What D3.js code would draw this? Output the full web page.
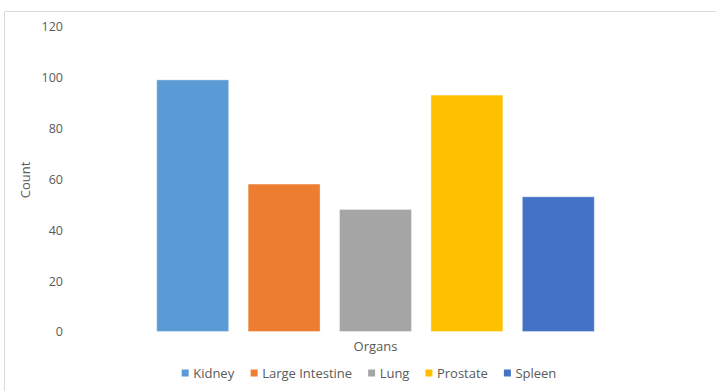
<!DOCTYPE html>
<html>
<head>
<meta charset="utf-8">
<script src="https://cdn.jsdelivr.net/npm/d3@7"></script>
<style>
  html, body { margin: 0; padding: 0; background: #fff; }
  svg { display: block; }
  text { font-family: "Open Sans", "Liberation Sans", sans-serif; fill: #595959; }
</style>
</head>
<body>
<svg id="chart" width="716" height="391"></svg>
<script>
// Counts per organ
const organs = ["Kidney", "Large Intestine", "Lung", "Prostate", "Spleen"];
const counts = [99, 58, 48, 93, 53];
const colors = ["#5B9BD5", "#ED7D31", "#A5A5A5", "#FFC000", "#4472C4"];
const yTicks = [0, 20, 40, 60, 80, 100, 120];
const categoryLabel = "Organs";
const yTitle = "Count";

const svg = d3.select("#chart");

// chart frame (top and left edges)
svg.append("path")
  .attr("d", "M4.5,391 V11.5 H716")
  .attr("fill", "none")
  .attr("stroke", "#d9d9d9")
  .attr("stroke-width", 1);

const y = d3.scaleLinear().domain([0, 120]).range([331.5, 26.5]);
const x = d3.scaleBand().domain(organs).range([147, 604])
  .paddingInner(0.213).paddingOuter(0.1065);

// y axis labels (no line, no ticks)
const yAxis = d3.axisLeft(y).tickValues(yTicks).tickSize(0).tickPadding(0);
const gy = svg.append("g").attr("transform", "translate(63,0)").call(yAxis);
gy.select(".domain").remove();
gy.selectAll("text")
  .style("font-size", "12.5px")
  .attr("fill", "#595959")
  .attr("dy", "0.35em")
  .attr("font-family", '"Open Sans", sans-serif');

// bars
svg.append("g").selectAll("rect")
  .data(organs)
  .join("rect")
  .attr("x", d => x(d))
  .attr("width", x.bandwidth())
  .attr("y", (d, i) => y(counts[i]))
  .attr("height", (d, i) => y(0) - y(counts[i]))
  .attr("fill", (d, i) => colors[i])
  .attr("stroke", "#ffffff")
  .attr("stroke-opacity", 0.35)
  .attr("stroke-width", 1);

// category label under the bar cluster
svg.append("text")
  .attr("x", 375.5)
  .attr("y", 346)
  .attr("dy", "0.35em")
  .attr("text-anchor", "middle")
  .style("font-size", "13px")
  .text(categoryLabel);

// y axis title
svg.append("text")
  .attr("transform", "translate(25,180) rotate(-90)")
  .attr("dy", "0.35em")
  .attr("text-anchor", "middle")
  .style("font-size", "13px")
  .text(yTitle);

// legend
const legend = svg.append("g").attr("transform", "translate(0,373)");
const items = legend.selectAll("g").data(organs).join("g");
items.append("rect")
  .attr("width", 7).attr("height", 7).attr("y", -3.5)
  .attr("fill", (d, i) => colors[i]);
items.append("text")
  .attr("x", 11.5)
  .attr("dy", "0.35em")
  .style("font-size", "13px")
  .text(d => d);
// lay out items side by side, centred on the plot
const gap = 16;
const widths = [];
items.each(function () { widths.push(this.getBBox().width); });
const total = d3.sum(widths) + gap * (widths.length - 1);
let cx = 369 - total / 2;
items.each(function (d, i) {
  d3.select(this).attr("transform", `translate(${cx},0)`);
  cx += widths[i] + gap;
});
</script>
</body>
</html>
